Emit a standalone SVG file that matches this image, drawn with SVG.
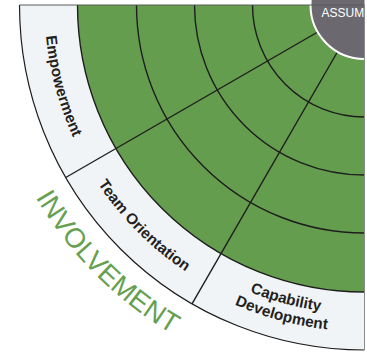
<svg xmlns="http://www.w3.org/2000/svg" xmlns:xlink="http://www.w3.org/1999/xlink" width="367" height="352" viewBox="0 0 367 352">
<style>
.lbl{font-family:"Liberation Sans",Arial,sans-serif;font-weight:bold;font-size:15.3px;fill:#231f20}
.ring{fill:none;stroke:#1e1e1e;stroke-width:1.4}
.big{font-family:"Liberation Sans",Arial,sans-serif;font-size:27.5px;fill:#66a04f}
</style>
<defs>
<clipPath id="clip"><rect x="0" y="0" width="364.5" height="352"/></clipPath>
<path id="pEmp" d="M -320 0 A 320 320 0 0 0 -277.13 160"/>
<path id="pTeam" d="M -278 160.5 A 321 321 0 0 0 -160.5 278"/>
<path id="pCap" d="M -154.5 267.62 A 309 309 0 0 0 0 309"/>
<path id="pDev" d="M -163.25 282.76 A 326.5 326.5 0 0 0 0 326.5"/>
<path id="pInv" d="M -381 0 A 381 381 0 0 0 0 381"/>
</defs>
<rect width="367" height="352" fill="#ffffff"/>
<g clip-path="url(#clip)">
<g transform="translate(364.5,5)">
<g id="label-ring">
<path d="M 0 0 L -345 0 A 345 345 0 0 0 0 345 Z" fill="#f1f4f7"/>
<path d="M -345 0 A 345 345 0 0 0 0 345" fill="none" stroke="#1e1e1e" stroke-width="1.2"/>
</g>
<g id="green-area">
<path d="M 0 0 L -287 0 A 287 287 0 0 0 0 287 Z" fill="#649d4d"/>
</g>
<g id="connectors">
<path class="ring" d="M -287 0 A 287 287 0 0 0 0 287"/>
<path class="ring" d="M -228 0 A 228 228 0 0 0 0 228"/>
<path class="ring" d="M -170 0 A 170 170 0 0 0 0 170"/>
<path class="ring" d="M -112 0 A 112 112 0 0 0 0 112"/>
<line class="ring" x1="-46.77" y1="27" x2="-298.78" y2="172.5"/>
<line class="ring" x1="-27" y1="46.77" x2="-172.5" y2="298.78"/>
</g>
<g id="core">
<circle cx="0" cy="0" r="54" fill="#6b696f" stroke="#ffffff" stroke-width="2"/>
</g>
<g id="empowerment"><text class="lbl" text-anchor="middle"><textPath xlink:href="#pEmp" href="#pEmp" startOffset="50%">Empowerment</textPath></text></g>
<g id="team-orientation"><text class="lbl" text-anchor="middle"><textPath xlink:href="#pTeam" href="#pTeam" startOffset="50%">Team Orientation</textPath></text></g>
<g id="capability-development">
<text class="lbl" text-anchor="middle"><textPath xlink:href="#pCap" href="#pCap" startOffset="50%">Capability</textPath></text>
<text class="lbl" text-anchor="middle"><textPath xlink:href="#pDev" href="#pDev" startOffset="50%">Development</textPath></text>
</g>
<g id="involvement"><text class="big" text-anchor="middle"><textPath xlink:href="#pInv" href="#pInv" startOffset="50%">INVOLVEMENT</textPath></text></g>
</g>
<text id="assum" x="321.5" y="16.5" font-family="Liberation Sans,Arial,sans-serif" font-size="12" fill="#ffffff">ASSUM</text>
</g>
<line x1="19.5" y1="5" x2="364.5" y2="5" stroke="#5a5a5a" stroke-width="1"/>
<line x1="364.5" y1="5" x2="364.5" y2="350" stroke="#8a8a8a" stroke-width="1"/>
</svg>
